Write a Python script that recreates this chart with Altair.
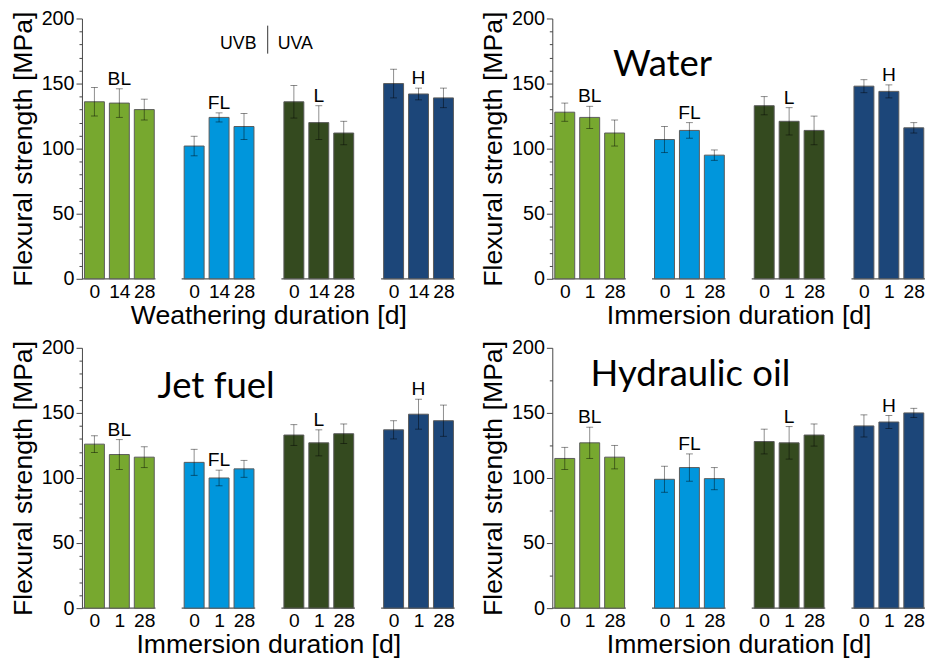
import json
import altair as alt
import pandas as pd

GROUPS = ["BL", "FL", "L", "H"]
COLORS = ["#77A82F", "#0096DC", "#344A1F", "#1C4679"]

UV_DURATIONS = [0, 14, 28]
IMM_DURATIONS = [0, 1, 28]

# mean flexural strength [MPa], order: BL(3) FL(3) L(3) H(3)
uv_mean = [136, 135, 130, 102, 124, 117, 136, 120, 112, 150, 142, 139]
uv_err = [11, 11, 8, 7.5, 3.5, 10, 12.5, 13, 9, 11, 4.5, 7.5]
water_mean = [128, 124, 112, 107, 114, 95, 133, 121, 114, 148, 144, 116]
water_err = [7, 8.5, 10, 10, 6, 4, 7, 10.5, 11, 5, 5, 4]
jet_mean = [126, 118, 116, 112, 100, 107, 133, 127, 134, 137, 149, 144]
jet_err = [6.5, 11.5, 8, 10, 6, 6.5, 8, 10, 7.5, 7, 11.5, 12]
hyd_mean = [115, 127, 116, 99, 108, 99.5, 128, 127, 133, 140, 143, 150]
hyd_err = [8.5, 12, 9, 10, 10.5, 8.5, 9.5, 12.5, 8.5, 8.5, 5, 3.5]

FONT = "Liberation Sans"
W, H = 378, 264


def panel(mean, err, durations, xtitle, minor_step, title=None, title_xy=None, uv=False):
    rows = []
    for gi, g in enumerate(GROUPS):
        for di, d in enumerate(durations):
            k = gi * 3 + di
            pos = gi * 4 + di
            rows.append(dict(group=g, dur=str(d), di=di, pos=pos, lo=pos - 0.4, hi=pos + 0.4,
                             mean=mean[k], low=mean[k] - err[k], high=mean[k] + err[k]))
    df = pd.DataFrame(rows)
    base_df = pd.DataFrame([dict(group=g, start=gi * 4 - 0.5, end=gi * 4 + 2.45)
                            for gi, g in enumerate(GROUPS)])

    xscale = alt.Scale(domain=[-0.5, 14.45], nice=False, zero=False)
    yscale = alt.Scale(domain=[0, 200], nice=False)
    label_expr = json.dumps([str(d) for d in durations]) + "[datum.value % 4]"
    xaxis = alt.Axis(values=[int(p) for p in df.pos], labelExpr=label_expr, title=xtitle,
                     domain=False, ticks=False, tickSize=0, grid=False, labelFontSize=19.5,
                     labelPadding=4, titleFontSize=27, titlePadding=2, labelAngle=0,
                     labelFlush=False, labelOverlap=False, titleFontWeight="normal")
    yaxis = alt.Axis(values=list(range(0, 201, minor_step)),
                     labelExpr="datum.value % 50 === 0 ? datum.label : ''",
                     tickSize={"condition": {"test": "datum.value % 50 === 0", "value": 6}, "value": 3},
                     title="Flexural strength [MPa]", grid=False, labelFontSize=20, labelPadding=2,
                     titleFontSize=27, titlePadding=4, labelOverlap=False,
                     domainColor="#444", tickColor="#444", titleFontWeight="normal")

    color = alt.Color("group:N", scale=alt.Scale(domain=GROUPS, range=COLORS), legend=None)

    baseline = alt.Chart(base_df).mark_rule(color="#555", strokeWidth=1.3).encode(
        x=alt.X("start:Q", scale=xscale, axis=xaxis), x2="end:Q",
        y=alt.datum(0, scale=yscale, axis=yaxis))
    bars = alt.Chart(df).mark_bar(stroke="#5a5a5a", strokeWidth=1).encode(
        x=alt.X("lo:Q", scale=xscale, axis=xaxis), x2="hi:Q",
        y=alt.Y("mean:Q", scale=yscale, axis=yaxis), y2=alt.datum(0), color=color)
    ebar = alt.Chart(df).mark_rule(color="black", opacity=0.45, strokeWidth=1).encode(
        x=alt.X("pos:Q", scale=xscale, axis=xaxis),
        y=alt.Y("low:Q", scale=yscale, axis=yaxis), y2="high:Q")
    cap_hi = alt.Chart(df).mark_tick(orient="horizontal", size=7, thickness=1, color="black", opacity=0.45).encode(
        x=alt.X("pos:Q", scale=xscale, axis=xaxis), y=alt.Y("high:Q", scale=yscale, axis=yaxis))
    cap_lo = alt.Chart(df).mark_tick(orient="horizontal", size=7, thickness=1, color="black", opacity=0.45).encode(
        x=alt.X("pos:Q", scale=xscale, axis=xaxis), y=alt.Y("low:Q", scale=yscale, axis=yaxis))
    glabels = alt.Chart(df[df.di == 1]).mark_text(dy=-4, baseline="alphabetic", fontSize=19.5,
                                                  font=FONT, color="black").encode(
        x=alt.X("pos:Q", scale=xscale, axis=xaxis), y=alt.Y("high:Q", scale=yscale, axis=yaxis),
        text="group:N")
    layers = [baseline, bars, ebar, cap_hi, cap_lo, glabels]
    if title:
        tdf = pd.DataFrame([dict(x=title_xy[0], y=title_xy[1], t=title)])
        layers.append(alt.Chart(tdf).mark_text(font="Lato", fontSize=37, baseline="middle",
                                               align="center", color="black").encode(
            x=alt.X("x:Q", scale=xscale, axis=xaxis), y=alt.Y("y:Q", scale=yscale, axis=yaxis),
            text="t:N"))
    if uv:
        udf = pd.DataFrame([dict(x=6.5, y=180.5, t="UVB", a="right"), dict(x=7.35, y=180.5, t="UVA", a="left")])
        layers.append(alt.Chart(udf[udf.a == "right"]).mark_text(fontSize=18, font=FONT, align="right",
                                                                 baseline="middle", color="black").encode(
            x=alt.X("x:Q", scale=xscale, axis=xaxis), y=alt.Y("y:Q", scale=yscale, axis=yaxis), text="t:N"))
        layers.append(alt.Chart(udf[udf.a == "left"]).mark_text(fontSize=18, font=FONT, align="left",
                                                                baseline="middle", color="black").encode(
            x=alt.X("x:Q", scale=xscale, axis=xaxis), y=alt.Y("y:Q", scale=yscale, axis=yaxis), text="t:N"))
        ldf = pd.DataFrame([dict(x=6.95, y1=173, y2=194.5)])
        layers.append(alt.Chart(ldf).mark_rule(color="#333", strokeWidth=1).encode(
            x=alt.X("x:Q", scale=xscale, axis=xaxis), y=alt.Y("y1:Q", scale=yscale, axis=yaxis), y2="y2:Q"))
    return alt.layer(*layers).properties(width=W, height=H)


p1 = panel(uv_mean, uv_err, UV_DURATIONS, "Weathering duration [d]", 10, uv=True)
p2 = panel(water_mean, water_err, IMM_DURATIONS, "Immersion duration [d]", 10, "Water", (3.92, 164))
p3 = panel(jet_mean, jet_err, IMM_DURATIONS, "Immersion duration [d]", 10, "Jet fuel", (4.88, 170))
p4 = panel(hyd_mean, hyd_err, IMM_DURATIONS, "Immersion duration [d]", 25, "Hydraulic oil", (5.04, 179))

chart = alt.vconcat(
    alt.hconcat(p1, p2, spacing=24),
    alt.hconcat(p3, p4, spacing=24),
    spacing=9,
).properties(padding={"left": 1, "top": -4, "right": 0, "bottom": 0}).configure(
    font=FONT
).configure_view(stroke=None).configure_axis(labelColor="black", titleColor="black",
                                              labelFont=FONT, titleFont=FONT)

chart.save("out.html", embed_options={"renderer": "svg", "actions": False})
